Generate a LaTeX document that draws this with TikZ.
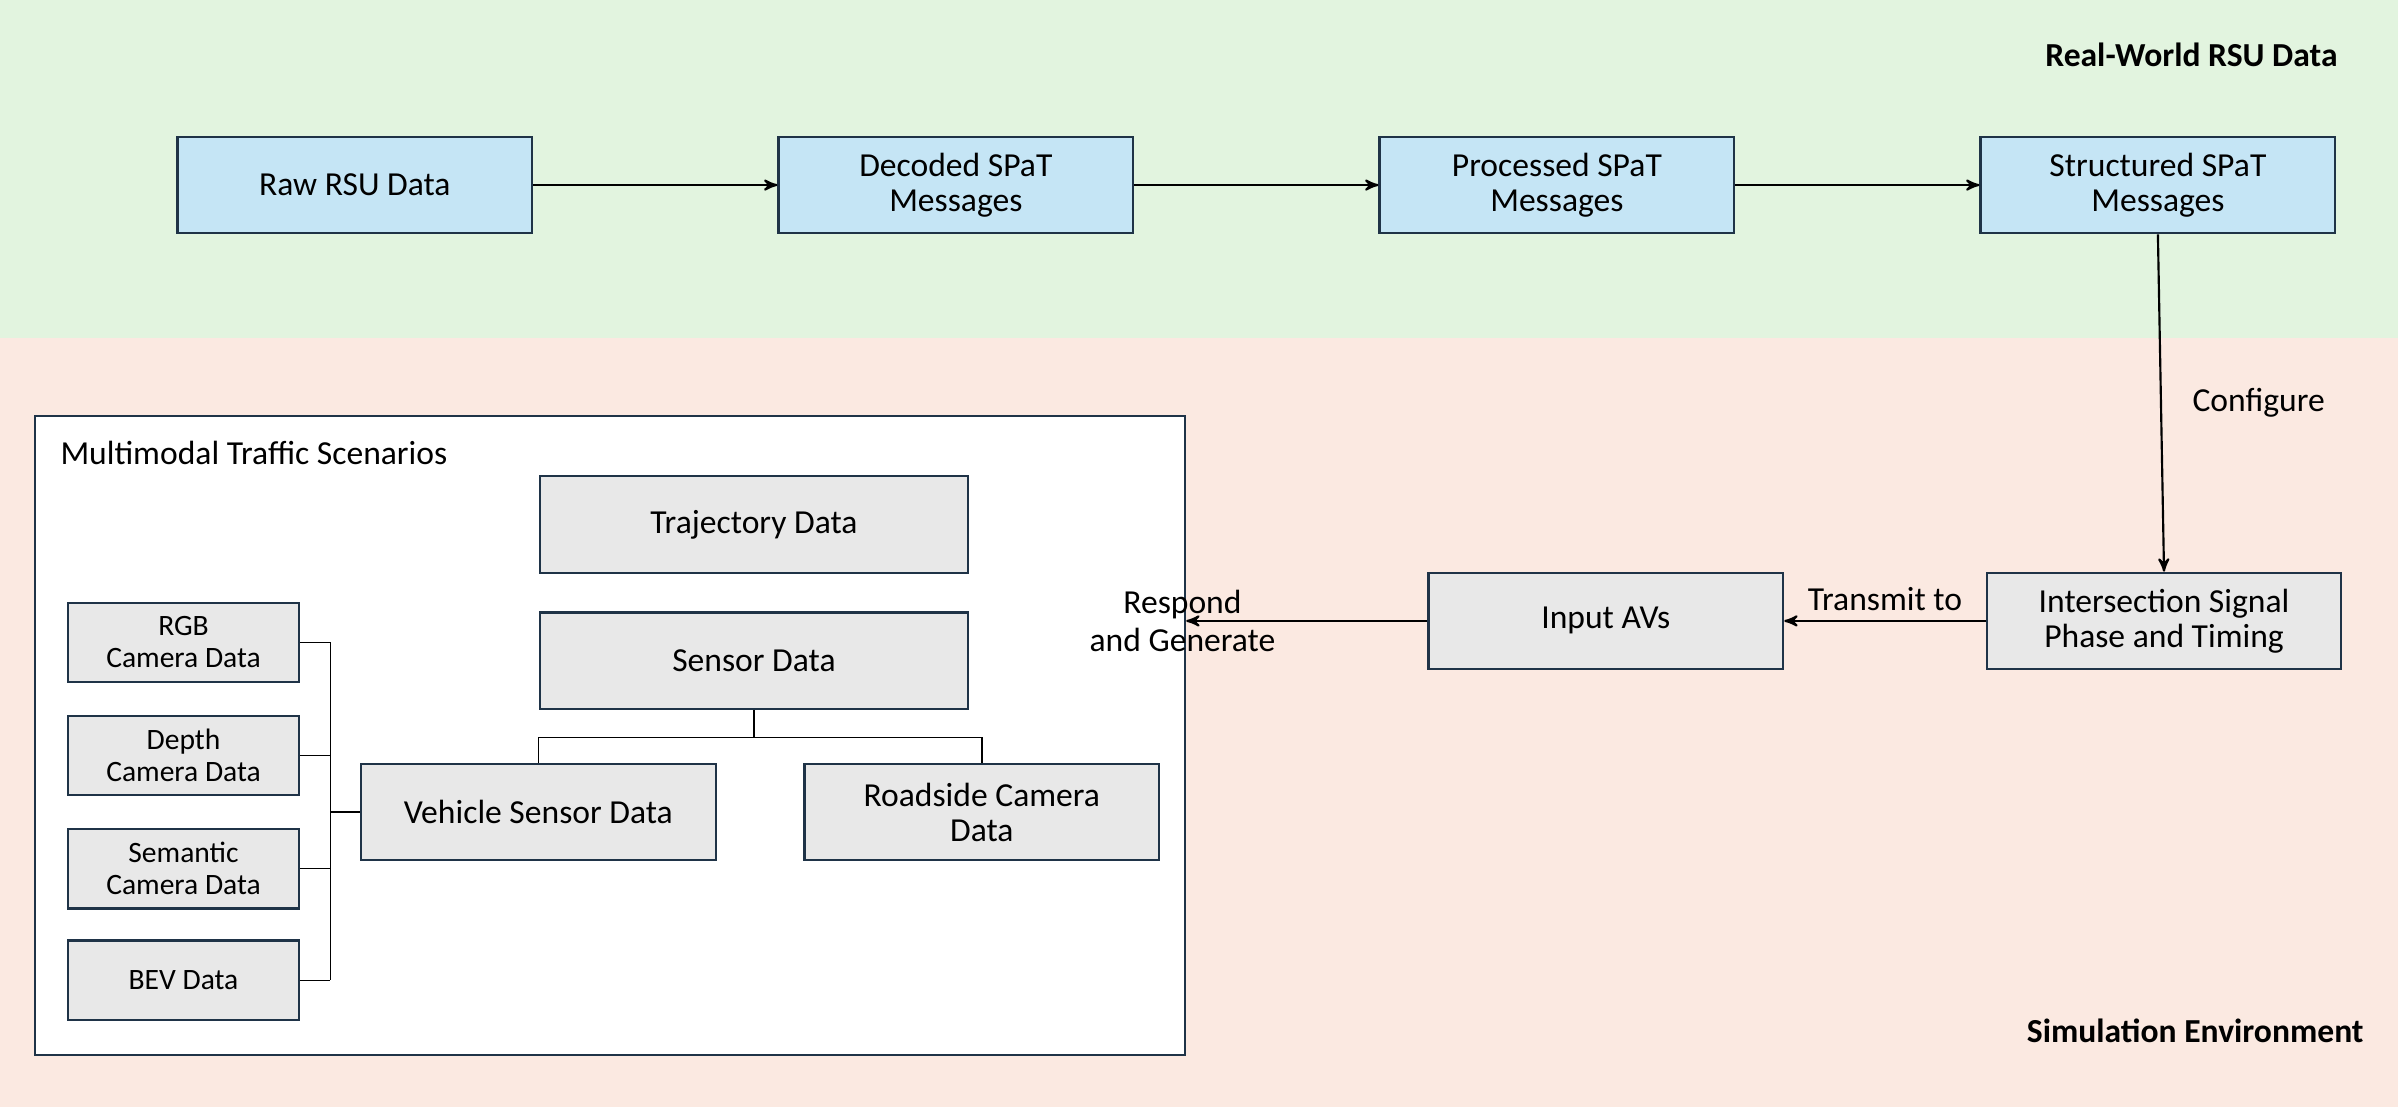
\documentclass[tikz,border=0pt]{standalone}
\usepackage{fontspec}
\setmainfont{Carlito}
\usetikzlibrary{arrows,positioning}

\definecolor{rsugreen}{HTML}{E2F4DF}
\definecolor{simpink}{HTML}{FBE9E1}
\definecolor{boxblue}{HTML}{C5E5F5}
\definecolor{boxgray}{HTML}{E8E8E8}
\definecolor{boxline}{HTML}{1F3347}

\begin{document}
\begin{tikzpicture}[x=0.02cm,y=-0.02cm,>=stealth',thick,
  blue node/.style={rectangle,fill=boxblue,draw=boxline,minimum width=4.64cm,minimum height=1.26cm,align=center,font=\fontsize{12.5}{13}\selectfont},
  gray node/.style={rectangle,fill=boxgray,draw=boxline,minimum width=4.64cm,minimum height=1.26cm,align=center,font=\fontsize{12.5}{13}\selectfont},
  small node/.style={rectangle,fill=boxgray,draw=boxline,minimum width=3.02cm,minimum height=1.04cm,align=center,font=\fontsize{11}{12}\selectfont},
  lbl/.style={font=\fontsize{12.5}{14}\selectfont,align=center}]

  \useasboundingbox (0,0) rectangle (1568,724);
  \fill[rsugreen] (0,0) rectangle (1568,221);
  \fill[simpink] (0,221) rectangle (1568,724);

  \node[anchor=east,font=\bfseries\fontsize{12.5}{14}\selectfont] (rsutitle) at (1535,36) {Real-World RSU Data};
  \node[anchor=east,font=\bfseries\fontsize{12.5}{14}\selectfont] (simtitle) at (1552,674) {Simulation Environment};

  % RSU pipeline
  \node[blue node] (raw) at (232,121) {Raw RSU Data};
  \node[blue node] (decoded) at (625,121) {Decoded SPaT\\Messages};
  \node[blue node] (processed) at (1018,121) {Processed SPaT\\Messages};
  \node[blue node] (structured) at (1411,121) {Structured SPaT\\Messages};

  % simulation side
  \node[gray node] (spat) at (1415,406) {Intersection Signal\\Phase and Timing};
  \node[gray node] (avs) at (1050,406) {Input AVs};

  \node[draw=boxline,fill=white,thick,minimum width=15.04cm,minimum height=8.36cm] (scen) at (399,481) {};
  \node[anchor=west,lbl] (scentitle) at (33,296) {Multimodal Traffic Scenarios};

  \node[gray node,minimum width=5.6cm] (traj) at (493,343) {Trajectory Data};
  \node[gray node,minimum width=5.6cm] (sensor) at (493,432) {Sensor Data};
  \node[gray node] (vehicle) at (352,531) {Vehicle Sensor Data};
  \node[gray node] (roadside) at (642,531) {Roadside Camera\\Data};

  \node[small node] (rgb) at (120,420) {RGB\\Camera Data};
  \node[small node] (depth) at (120,494) {Depth\\Camera Data};
  \node[small node] (semantic) at (120,568) {Semantic\\Camera Data};
  \node[small node] (bev) at (120,641) {BEV Data};

  \path[->]
    (raw) edge (decoded)
    (decoded) edge (processed)
    (processed) edge (structured)
    (structured.south) edge node[right,lbl,xshift=8pt] {Configure} (spat.north)
    (spat) edge node[above,lbl] {Transmit to} (avs)
    (avs) edge node[left,lbl,xshift=-8pt] {Respond\\and Generate} (scen.east |- avs);

  \draw[semithick] (sensor.south) -- ++(0,18) -| (vehicle.north);
  \draw[semithick] (sensor.south) ++(0,18) -| (roadside.north);
  \foreach \s in {rgb,depth,semantic,bev}
    \draw[semithick] (\s.east) -- (216,0 |- \s.east);
  \draw[semithick] (216,420) -- (216,641);
  \draw[semithick] (216,531) -- (vehicle.west);
\end{tikzpicture}
\end{document}
